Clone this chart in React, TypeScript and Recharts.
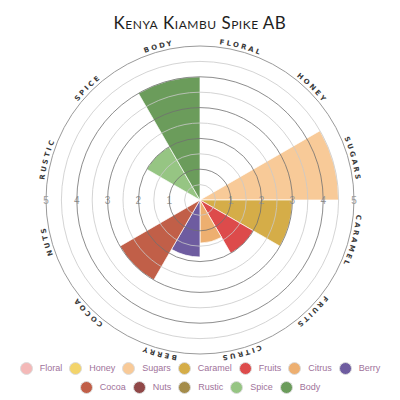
import {
    RadialBarChart,
    RadialBar,
    PolarAngleAxis,
    PolarRadiusAxis,
    PolarGrid,
    Cell,
} from 'recharts';

const categories = ['Floral', 'Honey', 'Sugars', 'Caramel', 'Fruits', 'Citrus', 'Berry', 'Cocoa', 'Nuts', 'Rustic', 'Spice', 'Body'];
const scores = [0, 0, 4.5, 3, 2, 1.4, 1.85, 3, 0, 0, 2, 4];
const colors = [
    '#f4b9b8', '#f3d46b', '#f8ca98', '#d5ad48', '#dd4b4b', '#edaf70',
    '#6e5ca0', '#c15f48', '#904848', '#a48c4a', '#96c583', '#6b9c5b',
];
const majorTicks = [1, 2, 3, 4, 5];
const minorTicks = [0.5, 1.5, 2.5, 3.5, 4.5];
const MAX = 5;

const data = categories.map((name, i) => ({ name, value: scores[i], color: colors[i] }));

const CX = 200;
const CY = 200;
const OUTER = 154;
const LABEL_R = 157;
// recharts puts the category tick at the band edge, so the label is nudged back half a band
const HALF_BAND = 180 / categories.length;

const ringR = (v: number) => (v / MAX) * OUTER;

function CurvedLabel(props: any) {
    const { payload, index } = props;
    const theta = 90 - payload.coordinate - HALF_BAND;
    const rad = (d: number) => (d * Math.PI) / 180;
    const pt = (d: number) => [CX + LABEL_R * Math.sin(rad(d)), CY - LABEL_R * Math.cos(rad(d))];
    const [x0, y0] = pt(theta - 45);
    const [x1, y1] = pt(theta + 45);
    const id = `cat-label-${index}`;
    return (
        <g>
            <path id={id} d={`M${x0},${y0} A${LABEL_R},${LABEL_R} 0 0 1 ${x1},${y1}`} fill="none" stroke="none" />
            <text fontSize={7} letterSpacing={2.2} fill="#3a3a3a" fontFamily="DejaVu Sans" fontWeight="bold">
                <textPath href={`#${id}`} startOffset="50%" textAnchor="middle">
                    {String(payload.value).toUpperCase()}
                </textPath>
            </text>
        </g>
    );
}

// tick on the right, mirrored on the left like the original
function RadiusTick(props: any) {
    const { x, y, payload } = props;
    const common = {
        textAnchor: 'middle' as const,
        dominantBaseline: 'central' as const,
        fontSize: 10,
        fill: '#9a9a9a',
        fontFamily: 'Liberation Sans',
    };
    return (
        <g>
            <text x={x} y={y} {...common}>{payload.value}</text>
            <text x={2 * CX - x} y={y} {...common}>{payload.value}</text>
        </g>
    );
}

function LegendBox() {
    return (
        <div
            style={{
                position: 'absolute',
                top: 362,
                left: 0,
                width: 400,
                display: 'flex',
                flexWrap: 'wrap',
                justifyContent: 'center',
                rowGap: 6,
                fontFamily: 'Liberation Sans, Arial, sans-serif',
                fontSize: 9,
                lineHeight: '13px',
                color: '#a0729a',
            }}
        >
            {categories.map((c, i) => (
                <div key={c} style={{ display: 'flex', alignItems: 'center', margin: '0 3.5px' }}>
                    <span
                        style={{
                            display: 'inline-block',
                            boxSizing: 'border-box',
                            width: 13,
                            height: 13,
                            borderRadius: '50%',
                            background: colors[i],
                            border: '1px solid #dcdcdc',
                            marginRight: 7,
                        }}
                    />
                    {c}
                </div>
            ))}
        </div>
    );
}

const chartProps = {
    width: 400,
    height: 400,
    data,
    cx: CX,
    cy: CY,
    innerRadius: 0,
    outerRadius: OUTER,
    startAngle: 90 - 2 * HALF_BAND,
    endAngle: -270 - 2 * HALF_BAND,
    layout: 'centric' as const,
    barCategoryGap: 0,
    barGap: 0,
};

export default function App() {
    return (
        <div style={{ position: 'absolute', left: 0, top: 0, width: 400, height: 400, background: '#fff' }}>
            <div
                style={{
                    position: 'absolute',
                    top: 12,
                    width: 400,
                    textAlign: 'center',
                    fontFamily: 'Lato, sans-serif',
                    fontVariant: 'small-caps',
                    fontSize: 17,
                    letterSpacing: 0.5,
                    color: '#1e1e1e',
                }}
            >
                Kenya Kiambu Spike AB
            </div>

            {/* bars underneath, with the value ticks */}
            <div style={{ position: 'absolute', left: 0, top: 0 }}>
                <RadialBarChart {...chartProps}>
                    <PolarAngleAxis dataKey="name" type="category" axisLine={false} tickLine={false} tick={false} />
                    <PolarRadiusAxis type="number" domain={[0, MAX]} ticks={majorTicks} angle={0} tick={RadiusTick} axisLine={false} tickLine={false} />
                    <RadialBar dataKey="value" isAnimationActive={false} stroke="#fff" strokeOpacity={0.7} strokeWidth={1}>
                        {data.map((d) => (
                            <Cell key={d.name} fill={d.color} />
                        ))}
                    </RadialBar>
                </RadialBarChart>
            </div>

            {/* rings, outer circle and category labels drawn over the bars */}
            <div style={{ position: 'absolute', left: 0, top: 0, pointerEvents: 'none' }}>
                <RadialBarChart {...chartProps}>
                    <PolarGrid gridType="circle" radialLines={false} polarRadius={minorTicks.map(ringR)} stroke="#c9c9c9" strokeWidth={0.8} fill="none" />
                    <PolarGrid gridType="circle" radialLines={false} polarRadius={majorTicks.slice(0, -1).map(ringR)} stroke="#707070" strokeWidth={0.8} fill="none" />
                    <PolarAngleAxis
                        dataKey="name"
                        type="category"
                        axisLineType="circle"
                        axisLine={{ stroke: '#9a9a9a', strokeWidth: 1 }}
                        tickLine={false}
                        tick={CurvedLabel}
                    />
                </RadialBarChart>
            </div>

            <LegendBox />
        </div>
    );
}
